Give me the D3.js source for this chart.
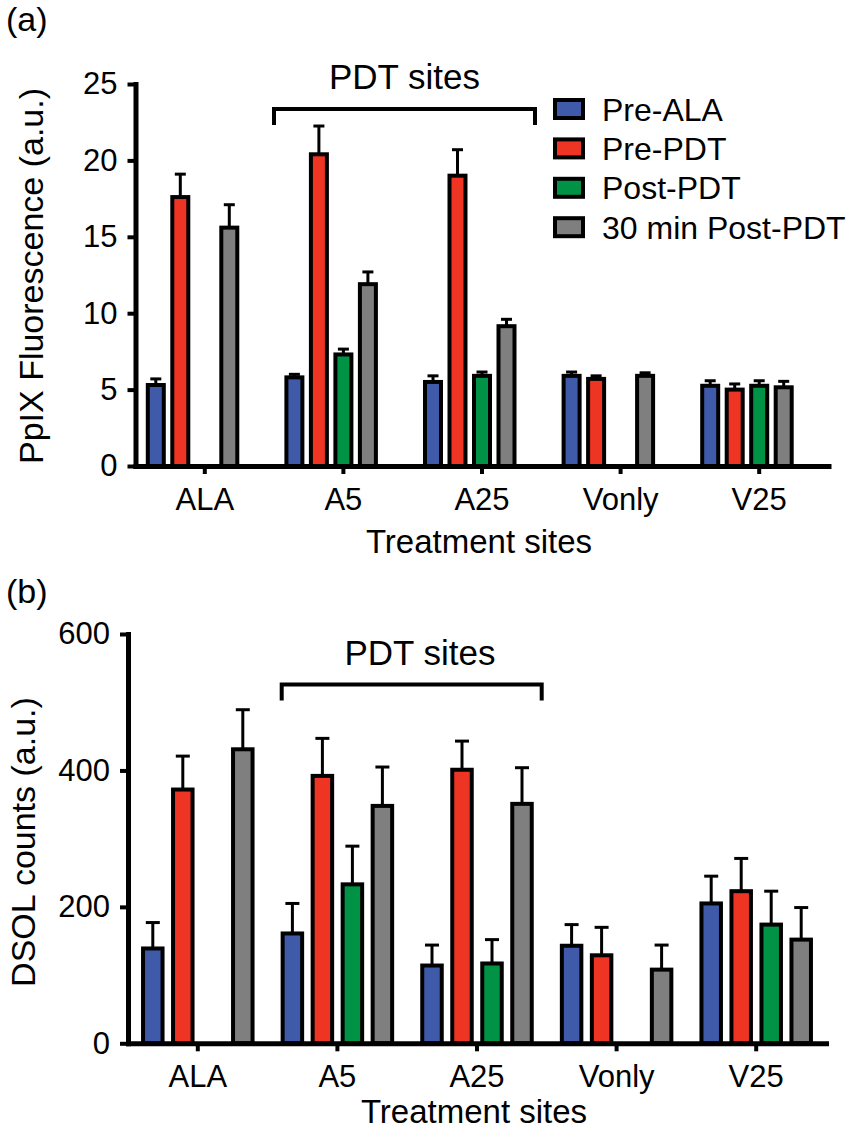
<!DOCTYPE html>
<html lang="en">
	<head>
		<meta charset="utf-8">
		<title>PpIX fluorescence and DSOL counts</title>
		<script src="https://d3js.org/d3.v7.min.js"></script>
		<style>
			body { margin: 0; background: #fff; }
			text { font-family: "Liberation Sans", Arial, Helvetica, sans-serif; fill: #000; }
		</style>
	</head>
	<body>
		<script>

			//Chart data
			var categories = ["ALA", "A5", "A25", "Vonly", "V25"];
			var series = ["Pre-ALA", "Pre-PDT", "Post-PDT", "30 min Post-PDT"];
			var colors = ["#3f5aa8", "#ee3524", "#009245", "#7f7f7f"];

			//Panel (a): PpIX fluorescence, one row per category, one value per series
			var ppixMean = [
				[5.3, 17.6, null, 15.6],
				[5.8, 20.4, 7.3, 11.9],
				[5.5, 19.0, 5.9, 9.15],
				[5.9, 5.7, null, 5.9],
				[5.25, 5.0, 5.25, 5.15]
			];
			var ppixErr = [
				[0.4, 1.5, null, 1.5],
				[0.2, 1.85, 0.35, 0.8],
				[0.4, 1.7, 0.25, 0.45],
				[0.25, 0.2, null, 0.2],
				[0.33, 0.37, 0.33, 0.39]
			];
			var ppixTicks = [0, 5, 10, 15, 20, 25];

			//Panel (b): DSOL counts
			var dsolMean = [
				[139, 372, null, 431],
				[161, 392, 233, 348],
				[114, 401, 117, 351],
				[143, 129, null, 108],
				[205, 223, 174, 152]
			];
			var dsolErr = [
				[38, 49, null, 58],
				[44, 55, 56, 57],
				[30, 42, 35, 53],
				[31, 41, null, 36],
				[40, 48, 49, 47]
			];
			var dsolTicks = [0, 200, 400, 600];

			var w = 850;
			var h = 1130;

			var svg = d3.select("body")
						.append("svg")
						.attr("width", w)
						.attr("height", h);

			function drawPanel(cfg) {
				var g = svg.append("g");

				var y = d3.scaleLinear().domain(cfg.yDomain).range([cfg.bottom, cfg.top]);
				var x0 = d3.scaleBand().domain(categories).range([cfg.left, cfg.right]);
				var x1 = d3.scalePoint().domain(series).range(cfg.offsets);

				//flatten rows into bar records
				var bars = [];
				categories.forEach(function(c, i) {
					series.forEach(function(s, j) {
						if (cfg.mean[i][j] == null) return;
						bars.push({cat: c, ser: s, idx: j, v: cfg.mean[i][j], e: cfg.err[i][j]});
					});
				});

				g.selectAll("rect.bar")
				   .data(bars)
				   .enter()
				   .append("rect")
				   .attr("class", "bar")
				   .attr("x", function(d) { return x0(d.cat) + x0.bandwidth() / 2 + x1(d.ser) - cfg.barW / 2; })
				   .attr("y", function(d) { return y(d.v); })
				   .attr("width", cfg.barW)
				   .attr("height", function(d) { return y(0) - y(d.v); })
				   .style("fill", function(d) { return colors[d.idx]; })
				   .attr("stroke", "black")
				   .attr("stroke-width", 4);

				//error bars (upper only)
				var eb = g.selectAll("g.err")
				   .data(bars)
				   .enter()
				   .append("g")
				   .attr("class", "err")
				   .attr("transform", function(d) { return "translate(" + (x0(d.cat) + x0.bandwidth() / 2 + x1(d.ser)) + ",0)"; });

				eb.append("line")
				   .attr("x1", 0).attr("x2", 0)
				   .attr("y1", function(d) { return y(d.v); })
				   .attr("y2", function(d) { return y(d.v + d.e); })
				   .attr("stroke", "black")
				   .attr("stroke-width", 3);

				eb.append("line")
				   .attr("x1", -cfg.capW / 2).attr("x2", cfg.capW / 2)
				   .attr("y1", function(d) { return y(d.v + d.e); })
				   .attr("y2", function(d) { return y(d.v + d.e); })
				   .attr("stroke", "black")
				   .attr("stroke-width", 3);

				//axes
				var yAxis = g.append("g")
				   .attr("transform", "translate(" + cfg.left + ",0)")
				   .call(d3.axisLeft(y).tickValues(cfg.ticks).tickSize(8).tickSizeOuter(0).tickPadding(10));

				var xAxis = g.append("g")
				   .attr("transform", "translate(0," + cfg.bottom + ")")
				   .call(d3.axisBottom(x0).tickSize(8).tickSizeOuter(0).tickPadding(14));

				[yAxis, xAxis].forEach(function(a) {
					a.select(".domain").attr("stroke-width", 5).attr("stroke-linecap", "square");
					a.selectAll(".tick line").attr("stroke-width", 4);
					a.selectAll(".tick text").style("font-size", "31px");
				});

				//axis titles
				g.append("text")
				   .attr("x", (cfg.left + cfg.right) / 2 - 3)
				   .attr("y", cfg.xTitleY)
				   .attr("text-anchor", "middle")
				   .style("font-size", "33px")
				   .text("Treatment sites");

				g.append("text")
				   .attr("transform", "translate(" + cfg.yTitleX + "," + cfg.yTitleMid + ") rotate(-90)")
				   .attr("text-anchor", "middle")
				   .style("font-size", "34px")
				   .text(cfg.yTitle);

				//panel letter
				g.append("text")
				   .attr("x", 6)
				   .attr("y", cfg.letterY)
				   .style("font-size", "34px")
				   .text(cfg.letter);

				//PDT sites bracket
				var b = cfg.bracket;
				g.append("path")
				   .attr("d", "M" + b[0] + "," + (b[2] + 16) + "V" + b[2] + "H" + b[1] + "V" + (b[2] + 16))
				   .attr("fill", "none")
				   .attr("stroke", "black")
				   .attr("stroke-width", 4);

				g.append("text")
				   .attr("x", cfg.pdtX)
				   .attr("y", b[2] - 20)
				   .attr("text-anchor", "middle")
				   .style("font-size", "35px")
				   .text("PDT sites");

				return g;
			}

			var panelA = drawPanel({
				mean: ppixMean, err: ppixErr, ticks: ppixTicks, yDomain: [0, 25],
				top: 84, bottom: 466, left: 135.5, right: 828.5,
				offsets: [-49, 24.5], barW: 16, capW: 11,
				xTitleY: 553, yTitleX: 43, yTitleMid: 276, yTitle: "PpIX Fluorescence (a.u.)",
				letter: "(a)", letterY: 31,
				bracket: [274, 535, 109], pdtX: 404.5
			});

			drawPanel({
				mean: dsolMean, err: dsolErr, ticks: dsolTicks, yDomain: [0, 600],
				top: 634, bottom: 1043.3, left: 128, right: 826,
				offsets: [-45, 45], barW: 19.5, capW: 14,
				xTitleY: 1123, yTitleX: 35, yTitleMid: 842, yTitle: "DSOL counts (a.u.)",
				letter: "(b)", letterY: 603,
				bracket: [281.7, 541.7, 684.5], pdtX: 420
			});

			//Legend for panel (a)
			var legend = panelA.append("g")
				.attr("transform", "translate(555,109)");

			var rows = legend.selectAll("g")
				.data(series)
				.enter()
				.append("g")
				.attr("transform", function(d, i) { return "translate(0," + (i * 39.4) + ")"; });

			rows.append("rect")
				.attr("x", 0).attr("y", -9)
				.attr("width", 28).attr("height", 18)
				.style("fill", function(d, i) { return colors[i]; })
				.attr("stroke", "black")
				.attr("stroke-width", 4);

			rows.append("text")
				.attr("x", 47)
				.attr("y", 11.5)
				.style("font-size", "32px")
				.text(function(d) { return d; });

		</script>
	</body>
</html>
